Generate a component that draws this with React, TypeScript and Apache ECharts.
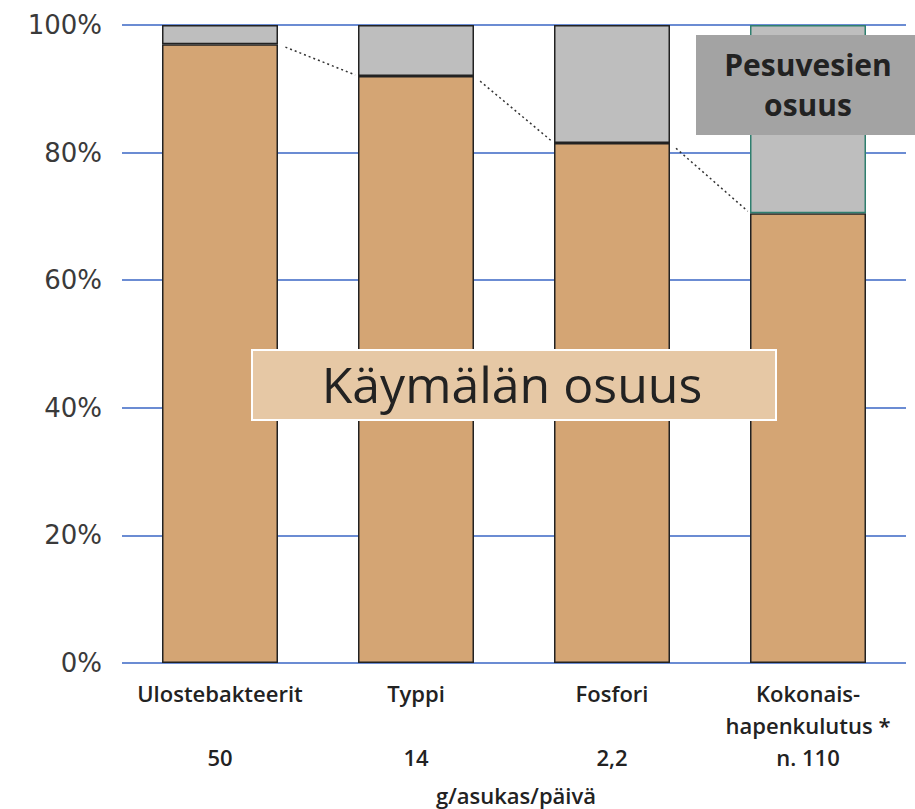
import React, { useEffect, useRef } from "react";
import * as echarts from "echarts";

const categories = ["Ulostebakteerit\n\n50", "Typpi\n\n14", "Fosfori\n\n2,2", "Kokonais-\nhapenkulutus *\nn. 110"];
const toiletShare = [97, 92, 81.5, 70.5];
const washShare = toiletShare.map((v) => 100 - v);
const yTicks = [0, 20, 40, 60, 80, 100];

const FONT = "'Open Sans', 'Noto Sans', sans-serif";
const YFONT = "'DejaVu Sans', sans-serif";

export default function App() {
  const ref = useRef<HTMLDivElement>(null);
  useEffect(() => {
    if (!ref.current) return;
    const chart = echarts.init(ref.current, null, { renderer: "svg" });
    const connectors = toiletShare.slice(0, -1).map((v, i) => [i, v, i + 1, toiletShare[i + 1]]);
    chart.setOption({
      animation: false,
      textStyle: { fontFamily: FONT },
      grid: { left: 122, top: 25, width: 784, height: 638 },
      xAxis: {
        type: "category",
        data: categories,
        axisLine: { show: false },
        axisTick: { show: false },
        axisLabel: { interval: 0, hideOverlap: false, fontSize: 22, lineHeight: 32, color: "#222", margin: 14, fontFamily: FONT, fontWeight: 600 },
      },
      yAxis: {
        type: "value",
        min: yTicks[0],
        max: yTicks[yTicks.length - 1],
        interval: 20,
        axisLine: { show: false },
        axisTick: { show: false },
        axisLabel: { formatter: "{value}%", fontSize: 26, color: "#3a3a3a", margin: 20, fontFamily: YFONT },
        splitLine: { lineStyle: { color: "#3A66C4", width: 1.5 } },
      },
      series: [
        {
          type: "bar",
          stack: "a",
          data: toiletShare,
          barWidth: 116,
          itemStyle: { color: "#D4A574", borderColor: "#222", borderWidth: 1.5 },
        },
        {
          type: "bar",
          stack: "a",
          data: washShare.map((v, i) =>
            i === 3 ? { value: v, itemStyle: { borderColor: "#2F7F6F" } } : v
          ),
          barWidth: 116,
          itemStyle: { color: "#BEBEBE", borderColor: "#222", borderWidth: 1.5 },
        },
        {
          type: "custom",
          coordinateSystem: "cartesian2d",
          data: connectors,
          encode: { x: 0, y: 1 },
          z: 5,
          renderItem: (params: any, api: any) => {
            const p1 = api.coord([api.value(0), api.value(1)]);
            const p2 = api.coord([api.value(2), api.value(3)]);
            const half = 58;
            let x1 = p1[0] + half, y1 = p1[1];
            let x2 = p2[0] - half, y2 = p2[1];
            const dx = x2 - x1, dy = y2 - y1;
            const len = Math.sqrt(dx * dx + dy * dy);
            const g = 8;
            x1 += (dx / len) * g; y1 += (dy / len) * g;
            x2 -= (dx / len) * 3; y2 -= (dy / len) * 3;
            return {
              type: "line",
              shape: { x1, y1, x2, y2 },
              style: { stroke: "#333", lineWidth: 1.5, lineDash: [2, 3] },
            };
          },
        },
      ],
      graphic: [
        {
          type: "rect",
          shape: { x: 252, y: 350, width: 524, height: 70 },
          style: { fill: "#E6C8A5", stroke: "#fff", lineWidth: 2 },
          z: 10,
        },
        {
          type: "text",
          x: 512,
          y: 384,
          style: { text: "Käymälän osuus", fontSize: 50, fill: "#222", fontFamily: FONT, align: "center", verticalAlign: "middle" },
          z: 11,
        },
        {
          type: "rect",
          shape: { x: 696, y: 35, width: 219, height: 100 },
          style: { fill: "#A3A3A3" },
          z: 10,
        },
        {
          type: "text",
          x: 808,
          y: 84,
          style: { text: "Pesuvesien\nosuus", fontSize: 30, fontWeight: "bold", lineHeight: 40, fill: "#222", fontFamily: FONT, align: "center", verticalAlign: "middle" },
          z: 11,
        },
        {
          type: "text",
          x: 516,
          y: 795,
          style: { text: "g/asukas/päivä", fontSize: 22, fill: "#222", fontFamily: FONT, align: "center", verticalAlign: "middle", fontWeight: 600 },
          z: 11,
        },
      ],
    });
    return () => chart.dispose();
  }, []);
  return <div ref={ref} style={{ position: "absolute", left: 0, top: 0, width: 915, height: 809 }} />;
}
